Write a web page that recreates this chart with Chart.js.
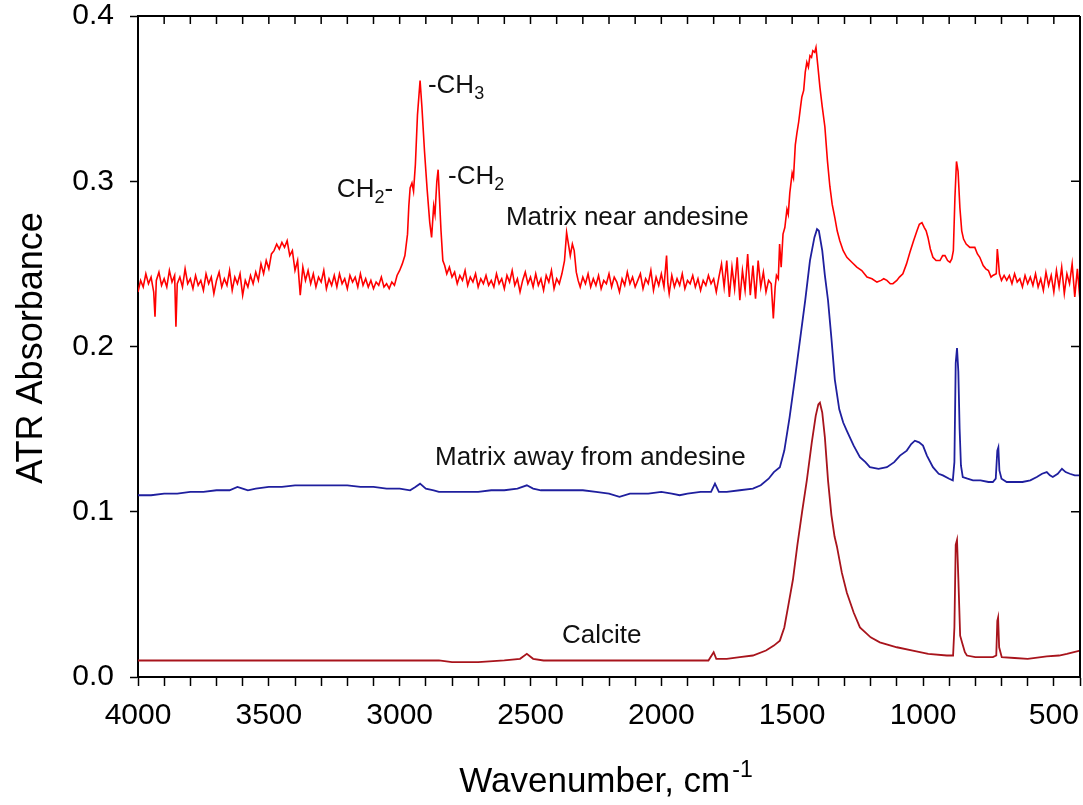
<!DOCTYPE html>
<html>
<head>
<meta charset="utf-8">
<script src="https://cdn.jsdelivr.net/npm/chart.js@4.4.1/dist/chart.umd.min.js"></script>
<style>
html,body{margin:0;padding:0;background:#fff;}
canvas{display:block;}
</style>
</head>
<body>
<canvas id="c" width="1083" height="805"></canvas>
<script>
// ---- Data (wavenumber cm-1, ATR absorbance) ----
const nearAndesine = [
[4000,0.233],[3990,0.240],[3980,0.236],[3970,0.244],[3960,0.238],[3950,0.242],[3940,0.233],[3935,0.218],[3930,0.240],[3920,0.245],
[3910,0.237],[3900,0.241],[3890,0.236],[3880,0.246],[3870,0.239],[3860,0.243],[3855,0.212],[3850,0.238],[3840,0.242],[3830,0.236],
[3820,0.247],[3810,0.238],[3800,0.241],[3790,0.235],[3780,0.243],[3770,0.237],[3760,0.240],[3750,0.234],[3740,0.244],[3730,0.238],
[3720,0.242],[3710,0.232],[3700,0.240],[3690,0.245],[3680,0.236],[3670,0.241],[3660,0.237],[3650,0.246],[3640,0.234],[3630,0.242],
[3620,0.238],[3610,0.244],[3600,0.231],[3590,0.240],[3580,0.236],[3570,0.243],[3560,0.238],[3550,0.245],[3540,0.240],[3530,0.250],
[3520,0.244],[3510,0.252],[3500,0.247],[3490,0.256],[3480,0.258],[3470,0.262],[3460,0.259],[3450,0.263],[3440,0.260],[3430,0.264],
[3420,0.255],[3410,0.258],[3400,0.246],[3390,0.252],[3380,0.231],[3370,0.248],[3360,0.240],[3350,0.246],[3340,0.238],[3330,0.244],
[3320,0.236],[3310,0.242],[3300,0.239],[3290,0.246],[3280,0.235],[3270,0.241],[3260,0.237],[3250,0.243],[3240,0.236],[3230,0.244],
[3220,0.238],[3210,0.241],[3200,0.235],[3190,0.243],[3180,0.239],[3170,0.242],[3160,0.236],[3150,0.244],[3140,0.237],[3130,0.241],
[3120,0.236],[3110,0.240],[3100,0.235],[3090,0.239],[3080,0.237],[3070,0.242],[3060,0.236],[3050,0.238],[3040,0.235],[3030,0.239],
[3020,0.237],[3010,0.243],[3000,0.246],[2990,0.250],[2980,0.255],[2970,0.268],[2965,0.285],[2960,0.296],[2953,0.299],[2947,0.294],
[2940,0.310],[2932,0.340],[2922,0.361],[2915,0.345],[2905,0.318],[2895,0.295],[2885,0.275],[2878,0.266],[2870,0.285],[2865,0.280],
[2858,0.300],[2853,0.307],[2848,0.290],[2842,0.270],[2835,0.252],[2828,0.249],[2820,0.244],[2810,0.248],[2800,0.242],[2790,0.245],
[2780,0.238],[2770,0.243],[2760,0.240],[2750,0.246],[2740,0.237],[2730,0.242],[2720,0.239],[2710,0.244],[2700,0.236],[2690,0.241],
[2680,0.238],[2670,0.243],[2660,0.237],[2650,0.240],[2640,0.236],[2630,0.244],[2620,0.238],[2610,0.241],[2600,0.235],[2590,0.243],
[2580,0.239],[2570,0.246],[2560,0.237],[2550,0.241],[2540,0.233],[2530,0.240],[2520,0.245],[2510,0.238],[2500,0.242],[2490,0.236],
[2480,0.244],[2470,0.237],[2460,0.241],[2450,0.234],[2440,0.243],[2430,0.239],[2420,0.246],[2410,0.235],[2400,0.241],[2390,0.238],
[2380,0.244],[2370,0.252],[2362,0.269],[2355,0.262],[2348,0.255],[2340,0.262],[2333,0.258],[2325,0.245],[2318,0.240],[2310,0.236],
[2300,0.242],[2290,0.238],[2280,0.244],[2270,0.236],[2260,0.241],[2250,0.237],[2240,0.243],[2230,0.235],[2220,0.240],[2210,0.238],
[2200,0.244],[2190,0.236],[2180,0.242],[2170,0.239],[2160,0.233],[2150,0.241],[2140,0.237],[2130,0.245],[2120,0.238],[2110,0.242],
[2100,0.236],[2090,0.240],[2080,0.244],[2070,0.235],[2060,0.241],[2050,0.238],[2040,0.246],[2030,0.234],[2020,0.242],[2010,0.237],
[2000,0.244],[1990,0.236],[1980,0.255],[1975,0.238],[1970,0.232],[1960,0.243],[1950,0.236],[1940,0.241],[1930,0.237],[1920,0.244],
[1910,0.235],[1900,0.240],[1890,0.238],[1880,0.243],[1870,0.236],[1860,0.241],[1850,0.234],[1840,0.240],[1830,0.237],[1820,0.243],
[1810,0.238],[1800,0.241],[1790,0.233],[1780,0.242],[1770,0.250],[1760,0.236],[1750,0.252],[1740,0.230],[1730,0.248],[1720,0.235],
[1710,0.254],[1700,0.228],[1690,0.246],[1680,0.234],[1670,0.256],[1660,0.231],[1650,0.249],[1640,0.229],[1630,0.252],[1620,0.236],
[1610,0.245],[1600,0.233],[1590,0.240],[1580,0.238],[1572,0.217],[1565,0.236],[1560,0.243],[1553,0.241],[1548,0.262],[1542,0.248],
[1535,0.268],[1528,0.272],[1520,0.283],[1515,0.280],[1509,0.293],[1500,0.305],[1495,0.302],[1488,0.322],[1482,0.329],[1475,0.336],
[1468,0.345],[1463,0.351],[1456,0.355],[1450,0.366],[1444,0.372],[1438,0.369],[1432,0.376],[1426,0.375],[1421,0.379],[1414,0.378],
[1409,0.381],[1402,0.370],[1394,0.357],[1385,0.345],[1375,0.333],[1365,0.312],[1356,0.297],[1347,0.286],[1337,0.278],[1328,0.270],
[1318,0.264],[1305,0.258],[1291,0.254],[1272,0.251],[1253,0.248],[1234,0.246],[1214,0.242],[1195,0.241],[1176,0.239],[1160,0.240],
[1150,0.241],[1138,0.240],[1125,0.238],[1115,0.238],[1100,0.240],[1090,0.242],[1077,0.244],[1063,0.250],[1050,0.257],[1036,0.264],
[1023,0.270],[1014,0.274],[1004,0.275],[995,0.272],[988,0.270],[981,0.266],[972,0.259],[962,0.254],[950,0.252],[935,0.252],
[925,0.255],[916,0.255],[906,0.252],[897,0.251],[890,0.253],[884,0.258],[878,0.290],[872,0.312],[866,0.306],[859,0.284],
[852,0.270],[845,0.265],[835,0.262],[821,0.260],[810,0.260],[802,0.260],[792,0.256],[783,0.254],[770,0.249],[760,0.247],
[750,0.246],[740,0.242],[733,0.243],[720,0.244],[716,0.259],[712,0.252],[708,0.244],[700,0.240],[690,0.243],[680,0.240],
[670,0.243],[660,0.238],[650,0.244],[640,0.239],[630,0.241],[620,0.236],[610,0.243],[600,0.238],[590,0.242],[580,0.237],
[570,0.244],[560,0.236],[550,0.241],[540,0.234],[530,0.245],[520,0.237],[510,0.243],[500,0.233],[490,0.246],[480,0.236],
[470,0.248],[460,0.232],[450,0.244],[440,0.238],[430,0.250],[420,0.230],[410,0.247],[400,0.228]
];
const awayAndesine = [
[4000,0.110],[3950,0.110],[3900,0.111],[3850,0.111],[3800,0.112],[3750,0.112],[3700,0.113],[3650,0.113],[3620,0.115],[3600,0.114],
[3580,0.113],[3550,0.114],[3500,0.115],[3450,0.115],[3400,0.116],[3350,0.116],[3300,0.116],[3250,0.116],[3200,0.116],[3150,0.115],
[3100,0.115],[3050,0.114],[3000,0.114],[2960,0.113],[2940,0.115],[2922,0.117],[2900,0.114],[2870,0.113],[2850,0.112],[2800,0.112],
[2750,0.112],[2700,0.112],[2650,0.113],[2600,0.113],[2550,0.114],[2514,0.116],[2490,0.114],[2460,0.113],[2400,0.113],[2350,0.113],
[2300,0.113],[2250,0.112],[2200,0.111],[2160,0.109],[2120,0.111],[2050,0.111],[2000,0.112],[1960,0.111],[1930,0.110],[1900,0.111],
[1850,0.112],[1810,0.112],[1795,0.117],[1780,0.112],[1750,0.112],[1700,0.113],[1650,0.114],[1620,0.116],[1590,0.120],[1570,0.124],
[1547,0.127],[1530,0.137],[1510,0.157],[1490,0.180],[1470,0.204],[1450,0.228],[1432,0.252],[1415,0.266],[1405,0.271],[1398,0.270],
[1385,0.258],[1375,0.243],[1363,0.228],[1350,0.205],[1337,0.180],[1320,0.162],[1305,0.154],[1291,0.149],[1265,0.140],[1241,0.133],
[1220,0.130],[1203,0.127],[1170,0.126],[1138,0.127],[1110,0.130],[1088,0.134],[1062,0.137],[1045,0.141],[1031,0.143],[1015,0.142],
[1000,0.140],[985,0.134],[962,0.127],[940,0.123],[924,0.122],[900,0.120],[886,0.119],[880,0.130],[875,0.190],[870,0.199],
[865,0.185],[860,0.150],[855,0.128],[848,0.121],[830,0.120],[809,0.119],[780,0.119],[750,0.118],[733,0.118],[722,0.120],
[716,0.137],[712,0.139],[708,0.125],[700,0.120],[680,0.118],[657,0.118],[620,0.118],[590,0.119],[565,0.121],[545,0.123],
[527,0.124],[515,0.122],[504,0.121],[485,0.123],[469,0.126],[455,0.124],[439,0.123],[420,0.122],[400,0.122]
];
const calcite = [
[4000,0.010],[3900,0.010],[3800,0.010],[3700,0.010],[3600,0.010],[3500,0.010],[3400,0.010],[3300,0.010],[3200,0.010],[3100,0.010],
[3000,0.010],[2900,0.010],[2850,0.010],[2800,0.009],[2700,0.009],[2600,0.010],[2540,0.011],[2514,0.014],[2490,0.011],[2450,0.010],
[2400,0.010],[2300,0.010],[2200,0.010],[2100,0.010],[2000,0.010],[1900,0.010],[1820,0.010],[1800,0.015],[1790,0.011],[1750,0.011],
[1700,0.012],[1650,0.013],[1600,0.016],[1570,0.019],[1547,0.022],[1530,0.030],[1515,0.043],[1497,0.059],[1480,0.080],[1462,0.100],
[1444,0.119],[1425,0.142],[1410,0.158],[1400,0.165],[1394,0.166],[1385,0.160],[1375,0.145],[1363,0.119],[1350,0.098],[1338,0.085],
[1329,0.079],[1310,0.063],[1291,0.051],[1265,0.039],[1241,0.030],[1200,0.024],[1165,0.021],[1100,0.018],[1039,0.016],[980,0.014],
[909,0.013],[885,0.013],[880,0.030],[875,0.080],[870,0.083],[865,0.060],[858,0.025],[851,0.021],[840,0.015],[832,0.013],
[800,0.012],[733,0.012],[720,0.013],[716,0.034],[713,0.036],[709,0.018],[699,0.012],[650,0.0115],[600,0.011],[527,0.0125],
[480,0.013],[450,0.014],[400,0.016]
];
const xMajorTicks = [4000,3500,3000,2500,2000,1500,1000,500];
const yTicks = [0.0,0.1,0.2,0.3,0.4];
const seriesNames = ['Matrix near andesine','Matrix away from andesine','Calcite'];

const FONT = '"Liberation Sans", Arial, sans-serif';
const toXY = arr => arr.map(p => ({x:p[0], y:p[1]}));

// annotation text placement (wavenumber, absorbance at text baseline-left)
const annotations = [
  {parts:[['CH',0],['2',1],['-',0]], w:3240, a:0.2905},
  {parts:[['-CH',0],['3',1]], w:2892, a:0.3534},
  {parts:[['-CH',0],['2',1]], w:2815, a:0.2983},
  {parts:[[seriesNames[0],0]], w:2594, a:0.2735},
  {parts:[[seriesNames[1],0]], w:2865, a:0.1283},
  {parts:[[seriesNames[2],0]], w:2380, a:0.0206}
];

const framePlugin = {
  id:'frame',
  afterDraw(chart){
    const ctx = chart.ctx, ca = chart.chartArea;
    const xs = chart.scales.x, ys = chart.scales.y;
    ctx.save();
    ctx.strokeStyle = '#000';
    ctx.lineWidth = 2;
    ctx.beginPath();
    ctx.moveTo(ca.left, ca.top); ctx.lineTo(ca.right, ca.top);
    ctx.moveTo(ca.right, ca.top); ctx.lineTo(ca.right, ca.bottom);
    ctx.stroke();
    ctx.lineWidth = 1.5;
    ctx.beginPath();
    xs.ticks.forEach(t => {
      const px = xs.getPixelForValue(t.value);
      ctx.moveTo(px, ca.top); ctx.lineTo(px, ca.top + 8);
    });
    ys.ticks.forEach(t => {
      const py = ys.getPixelForValue(t.value);
      ctx.moveTo(ca.right, py); ctx.lineTo(ca.right - 9, py);
    });
    ctx.stroke();

    // annotations
    ctx.fillStyle = '#111';
    ctx.textBaseline = 'alphabetic';
    ctx.textAlign = 'left';
    annotations.forEach(an => {
      let px = xs.getPixelForValue(an.w);
      const py = ys.getPixelForValue(an.a);
      an.parts.forEach(([txt, sub]) => {
        ctx.font = (sub ? '18px ' : '26px ') + FONT;
        ctx.fillText(txt, px, py + (sub ? 6 : 0));
        px += ctx.measureText(txt).width;
      });
    });

    // x title with superscript
    ctx.fillStyle = '#000';
    const main = 'Wavenumber, cm', sup = '-1';
    ctx.font = '35px ' + FONT;
    const wMain = ctx.measureText(main).width;
    ctx.font = '23px ' + FONT;
    const wSup = ctx.measureText(sup).width;
    const cx = (ca.left + ca.right) / 2;
    let sx = cx - (wMain + wSup) / 2 - 4;
    ctx.font = '35px ' + FONT;
    ctx.fillText(main, sx, 792);
    ctx.font = '23px ' + FONT;
    ctx.fillText(sup, sx + wMain + 2, 777);

    // y title
    ctx.save();
    ctx.translate(42, 348);
    ctx.rotate(-Math.PI / 2);
    ctx.textAlign = 'center';
    ctx.font = '36px ' + FONT;
    ctx.fillText('ATR Absorbance', 0, 0);
    ctx.restore();
    ctx.restore();
  }
};

new Chart(document.getElementById('c'), {
  type:'line',
  data:{
    datasets:[
      {label:seriesNames[0], data:toXY(nearAndesine), borderColor:'#ff0000', borderWidth:1.6, pointRadius:0, tension:0, fill:false},
      {label:seriesNames[1], data:toXY(awayAndesine), borderColor:'#1f1f9e', borderWidth:1.8, pointRadius:0, tension:0, fill:false},
      {label:seriesNames[2], data:toXY(calcite), borderColor:'#a8141c', borderWidth:1.8, pointRadius:0, tension:0, fill:false}
    ]
  },
  options:{
    responsive:false,
    animation:false,
    layout:{padding:{left:0, right:3, top:16, bottom:0}},
    plugins:{legend:{display:false}, tooltip:{enabled:false}},
    scales:{
      x:{
        type:'linear', reverse:true, min:400, max:4000,
        ticks:{stepSize:100, autoSkip:false, maxRotation:0, minRotation:0,
          callback:v => xMajorTicks.includes(v) ? String(v) : '',
          font:{size:30, family:FONT}, color:'#000', padding:12},
        grid:{drawOnChartArea:false, tickLength:9, tickColor:'#000', tickWidth:1.5},
        border:{color:'#000', width:2},
        afterFit:s => { s.height = 128; s.paddingLeft = 0; s.paddingRight = 0; }
      },
      y:{
        min:0, max:0.4,
        afterBuildTicks:s => { s.ticks = yTicks.map(v => ({value:v})); },
        ticks:{callback:v => Number(v).toFixed(1), font:{size:30, family:FONT}, color:'#000', padding:16},
        grid:{drawOnChartArea:false, tickLength:8, tickColor:'#000', tickWidth:1.5},
        border:{color:'#000', width:2},
        afterFit:s => { s.width = 138; s.paddingTop = 0; s.paddingBottom = 0; }
      }
    }
  },
  plugins:[framePlugin]
});
</script>
</body>
</html>
